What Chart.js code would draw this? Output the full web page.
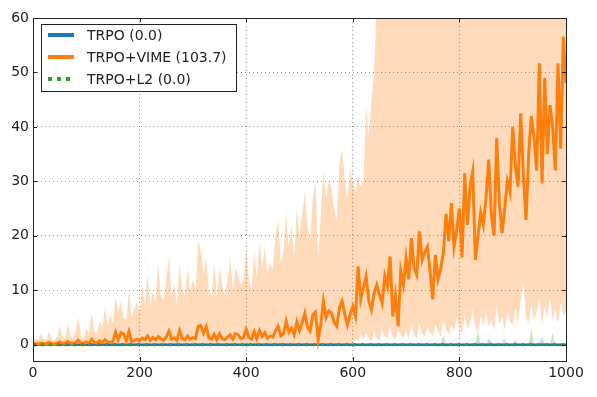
<!DOCTYPE html>
<html>
<head>
<meta charset="utf-8">
<script src="https://cdn.jsdelivr.net/npm/chart.js@4.4.1/dist/chart.umd.min.js"></script>
<style>
  html, body { margin: 0; padding: 0; background: #fff; }
  #wrap { width: 597px; height: 397px; }
</style>
</head>
<body>
<div id="wrap"><canvas id="chart" width="597" height="397"></canvas></div>
<script>
// iterations 0..1000, one value every 5 iterations
const vimeMean = [
  0.1, 0.2, 0.1, 0.3, 0.2, 0.1, 0.4, 0.2, 0.1, 0.3,
  0.5, 0.3, 0.2, 0.6, 0.3, 0.2, 0.4, 0.8, 0.3, 0.2,
  0.5, 0.3, 1.0, 0.4, 0.3, 0.7, 0.4, 0.9, 0.5, 0.4,
  0.6, 2.3, 0.9, 2.2, 2.0, 0.7, 2.4, 0.6, 0.8, 1.0,
  0.7, 1.2, 0.9, 1.6, 0.8, 1.3, 0.9, 1.5, 1.1, 0.8,
  1.4, 2.5, 1.0, 1.3, 0.8, 2.6, 1.2, 0.9, 1.6, 1.0,
  1.3, 1.1, 3.4, 3.5, 2.1, 3.3, 1.2, 1.0, 1.9, 0.9,
  2.0, 1.1, 0.9, 1.4, 1.8, 1.0, 2.0, 1.8, 1.1, 1.3,
  2.8, 1.3, 1.0, 2.4, 1.1, 2.6, 1.5, 2.2, 1.2, 1.6,
  1.4, 2.5, 3.4, 1.6, 2.0, 4.3, 2.3, 3.0, 1.8, 4.2,
  2.6, 4.0, 5.8, 3.2, 2.5, 5.5, 6.0, 0.9, 3.8, 8.0,
  5.0, 6.2, 5.8, 4.1, 3.4, 6.8, 8.0, 5.5, 3.6, 5.5,
  7.0, 5.2, 14.4, 8.3, 10.5, 12.5, 8.0, 6.4, 9.5, 11.0,
  9.2, 7.6, 12.6, 10.7, 16.2, 5.2, 9.0, 3.4, 13.5, 11.0,
  15.9, 12.0, 19.6, 14.0, 12.8, 20.8, 15.5, 17.0, 18.0, 13.5,
  8.3, 16.5, 12.0, 14.0, 17.0, 24.0, 19.0, 26.0, 18.0, 21.0,
  25.0, 16.0, 31.5, 22.0, 29.0, 31.8, 15.6, 20.0, 24.2, 22.0,
  27.0, 34.0, 24.0, 20.0, 37.9, 26.0, 20.5, 25.0, 30.0, 28.0,
  40.0, 33.0, 29.0, 42.5, 31.0, 22.9, 35.0, 42.0, 38.0, 32.0,
  51.7, 29.6, 49.0, 35.0, 44.0, 40.0, 32.0, 51.7, 36.0, 56.6,
  48.0
];
const vimeUpper = [
  0.5, 1.2, 0.8, 2.0, 0.9, 1.0, 2.5, 1.1, 0.7, 1.5,
  3.5, 1.5, 1.0, 4.0, 1.8, 1.2, 2.6, 5.0, 1.5, 1.0,
  3.0, 2.0, 6.0, 2.5, 2.0, 4.5, 3.0, 7.0, 3.5, 5.5,
  4.0, 9.0, 6.0, 8.0, 5.0, 4.5, 10.0, 5.0, 6.5, 8.0,
  6.0, 11.0, 7.0, 13.0, 7.0, 10.0, 8.0, 15.0, 9.0, 8.0,
  12.0, 16.0, 9.0, 11.0, 7.5, 15.0, 10.0, 9.0, 14.0, 10.0,
  12.0, 10.0, 19.0, 17.0, 13.0, 16.0, 10.0, 9.0, 15.0, 8.5,
  14.0, 11.0, 9.0, 12.0, 16.0, 10.0, 14.0, 13.0, 11.0, 12.0,
  18.0, 12.0, 10.0, 17.0, 12.0, 19.0, 14.0, 18.0, 13.0, 15.0,
  14.0, 20.0, 23.0, 15.0, 17.0, 24.0, 18.0, 22.0, 16.0, 25.0,
  20.0, 24.0, 28.0, 22.0, 19.0, 27.0, 30.0, 16.0, 24.0, 32.0,
  27.0, 30.0, 29.0, 25.0, 23.0, 33.0, 36.0, 30.0, 27.0, 32.0,
  30.0, 28.0, 31.0, 29.0, 30.0, 44.0, 38.0, 45.0, 50.0, 64.0,
  62.0, 65.0, 63.0, 66.0, 64.0, 67.0, 63.0, 66.0, 65.0, 68.0,
  64.0, 66.0, 63.0, 67.0, 65.0, 68.0, 64.0, 66.0, 65.0, 67.0,
  63.0, 66.0, 64.0, 68.0, 65.0, 67.0, 63.0, 66.0, 64.0, 68.0,
  65.0, 67.0, 63.0, 66.0, 64.0, 68.0, 65.0, 66.0, 63.0, 67.0,
  64.0, 68.0, 65.0, 66.0, 63.0, 67.0, 64.0, 68.0, 65.0, 66.0,
  63.0, 67.0, 64.0, 68.0, 65.0, 66.0, 63.0, 67.0, 64.0, 68.0,
  65.0, 66.0, 63.0, 67.0, 64.0, 68.0, 65.0, 66.0, 64.0, 67.0,
  65.0
];
const vimeLower = [
  0, 0, 0, 0, 0, 0, 0, 0, 0, 0,
  0, 0, 0, 0, 0, 0, 0, 0, 0, 0,
  0, 0, 0, 0, 0, 0, 0, 0, 0, 0,
  0, 0, 0, 0, 0, 0, 0, 0, 0, 0,
  0, 0, 0, 0, 0, 0, 0, 0, 0, 0,
  0, 0, 0, 0, 0, 0, 0, 0, 0, 0,
  0, 0, 0, 0, 0, 0, 0, 0, 0, 0,
  0, 0, 0, 0, 0, 0, 0, 0, 0, 0,
  0, 0, 0, 0, 0, 0, 0, 0, 0, 0,
  0, 0, 0, 0, 0, 0, 0, 0, 0, 0,
  0, 0, 0, 0, 0, 0, 0, 0, 0, 0,
  0, 0, 0, 0, 0, 0, 0, 0, 0, 0,
  0.3, 1.0, 0.5, 1.8, 0.8, 2.2, 1.0, 0.6, 2.5, 1.2,
  0.8, 2.8, 1.5, 1.0, 3.2, 1.4, 0.9, 2.6, 1.8, 1.2,
  2.5, 1.0, 3.5, 1.8, 1.2, 4.0, 2.0, 1.5, 3.2, 2.2,
  1.6, 3.8, 2.4, 1.4, 4.5, 2.8, 1.8, 3.6, 2.6, 5.0,
  3.0, 2.0, 5.5, 2.8, 4.0, 6.5, 3.0, 2.2, 5.2, 3.5,
  6.0, 3.2, 4.5, 2.5, 7.0, 3.8, 5.0, 2.8, 6.2, 4.2,
  3.5, 6.8, 4.0, 8.0, 11.5, 5.0, 3.8, 7.5, 4.5, 6.0,
  8.5, 3.6, 7.0, 5.0, 9.0, 4.2, 6.5, 3.8, 7.8, 5.5,
  6.0
];
const iters = vimeMean.map((_, i) => i * 5);

// flat baselines
const trpoX = [0, 1000];
const trpoY = [0, 0];
const l2X = [0, 1000];
const l2Y = [0, 0];

// small spread bands around zero
const trpoBandX = [0, 850, 856, 862, 900, 905, 910, 950, 955, 960, 1000];
const trpoBandY = [0.1, 0.1, 1.2, 0.1, 0.1, 0.9, 0.1, 0.1, 1.5, 0.1, 0.1];
const l2BandX = [0, 700, 765, 770, 775, 830, 835, 840, 880, 884, 888, 930, 935, 940, 970, 975, 980, 1000];
const l2BandY = [0.2, 0.2, 0.2, 1.8, 0.2, 0.2, 2.6, 0.2, 0.2, 1.5, 0.2, 0.2, 3.0, 0.2, 0.2, 2.2, 0.2, 0.2];

const xTicks = [0, 200, 400, 600, 800, 1000];
const yTicks = [0, 10, 20, 30, 40, 50, 60];

const legendItems = [
  { label: 'TRPO (0.0)', color: '#1f77b4', dash: [] },
  { label: 'TRPO+VIME (103.7)', color: '#ff7f0e', dash: [] },
  { label: 'TRPO+L2 (0.0)', color: '#2ca02c', dash: [4, 5] }
];

const pts = (xs, ys) => ys.map((y, i) => ({ x: xs[i], y: y }));

const frameAndLegend = {
  id: 'frameAndLegend',
  afterDraw(chart) {
    const { ctx, chartArea: a, scales } = chart;
    ctx.save();
    // inward tick marks
    ctx.strokeStyle = '#222';
    ctx.lineWidth = 1;
    ctx.beginPath();
    xTicks.forEach(v => {
      const px = Math.round(scales.x.getPixelForValue(v)) + 0.5;
      ctx.moveTo(px, a.bottom); ctx.lineTo(px, a.bottom - 4);
      ctx.moveTo(px, a.top); ctx.lineTo(px, a.top + 4);
    });
    yTicks.forEach(v => {
      const py = Math.round(scales.y.getPixelForValue(v)) + 0.5;
      ctx.moveTo(a.left, py); ctx.lineTo(a.left + 4, py);
      ctx.moveTo(a.right, py); ctx.lineTo(a.right - 4, py);
    });
    ctx.stroke();
    // frame
    ctx.strokeRect(Math.round(a.left) + 0.5, Math.round(a.top) + 0.5,
      Math.round(a.right - a.left), Math.round(a.bottom - a.top));

    // legend box
    const bx = 41, by = 24, bw = 195, bh = 67;
    ctx.fillStyle = '#fff';
    ctx.fillRect(bx, by, bw, bh);
    ctx.strokeStyle = '#222';
    ctx.strokeRect(bx + 0.5, by + 0.5, bw, bh);
    ctx.font = '14px "DejaVu Sans", sans-serif';
    ctx.textBaseline = 'middle';
    legendItems.forEach((it, i) => {
      const cy = 35 + i * 22;
      ctx.beginPath();
      ctx.setLineDash(it.dash);
      ctx.strokeStyle = it.color;
      ctx.lineWidth = 4;
      ctx.moveTo(48, cy); ctx.lineTo(74, cy);
      ctx.stroke();
      ctx.setLineDash([]);
      ctx.fillStyle = '#222';
      ctx.fillText(it.label, 87, cy + 1);
    });
    ctx.restore();
  }
};

const tickFont = { family: '"DejaVu Sans", sans-serif', size: 14 };

new Chart(document.getElementById('chart'), {
  type: 'line',
  data: {
    datasets: [
      {
        label: 'TRPO+L2',
        data: pts(l2X, l2Y),
        borderColor: '#2ca02c',
        borderWidth: 3,
        borderDash: [3, 5],
        pointRadius: 0,
        fill: false,
        order: 0
      },
      {
        label: 'TRPO+VIME',
        data: pts(iters, vimeMean),
        borderColor: '#ff7f0e',
        borderWidth: 3,
        pointRadius: 0,
        tension: 0,
        fill: false,
        order: 1
      },
      {
        label: 'TRPO',
        data: pts(trpoX, trpoY),
        borderColor: '#1f77b4',
        borderWidth: 2.5,
        pointRadius: 0,
        fill: false,
        order: 2
      },
      {
        label: 'vime lower',
        data: pts(iters, vimeLower),
        borderWidth: 0,
        borderColor: 'rgba(0,0,0,0)',
        pointRadius: 0,
        fill: false,
        order: 3
      },
      {
        label: 'vime upper',
        data: pts(iters, vimeUpper),
        borderWidth: 0,
        borderColor: 'rgba(0,0,0,0)',
        backgroundColor: 'rgba(255,127,14,0.28)',
        pointRadius: 0,
        fill: '-1',
        order: 4
      },
      {
        label: 'trpo band',
        data: pts(trpoBandX, trpoBandY),
        borderWidth: 0,
        borderColor: 'rgba(0,0,0,0)',
        backgroundColor: 'rgba(31,119,180,0.25)',
        pointRadius: 0,
        fill: 'origin',
        order: 5
      },
      {
        label: 'l2 band',
        data: pts(l2BandX, l2BandY),
        borderWidth: 0,
        borderColor: 'rgba(0,0,0,0)',
        backgroundColor: 'rgba(44,160,44,0.25)',
        pointRadius: 0,
        fill: 'origin',
        order: 6
      }
    ]
  },
  options: {
    responsive: false,
    animation: false,
    layout: { padding: { left: 0, right: 31, top: 18, bottom: 0 } },
    plugins: {
      legend: { display: false },
      tooltip: { enabled: false }
    },
    scales: {
      x: {
        type: 'linear',
        min: 0,
        max: 1000,
        afterFit: s => { s.height = 36; },
        afterBuildTicks: s => { s.ticks = xTicks.map(v => ({ value: v })); },
        border: { display: false, dash: [1, 3] },
        grid: { color: 'rgba(0,0,0,0.45)', lineWidth: 1, drawTicks: false },
        ticks: {
          padding: 4,
          color: '#222',
          font: tickFont,
          callback: v => String(v)
        }
      },
      y: {
        type: 'linear',
        min: -3,
        max: 60,
        afterFit: s => { s.width = 33; },
        afterBuildTicks: s => { s.ticks = yTicks.map(v => ({ value: v })); },
        border: { display: false, dash: [1, 3] },
        grid: { color: 'rgba(0,0,0,0.45)', lineWidth: 1, drawTicks: false },
        ticks: {
          padding: 4,
          color: '#222',
          font: tickFont,
          callback: v => String(v)
        }
      }
    }
  },
  plugins: [frameAndLegend]
});
</script>
</body>
</html>
